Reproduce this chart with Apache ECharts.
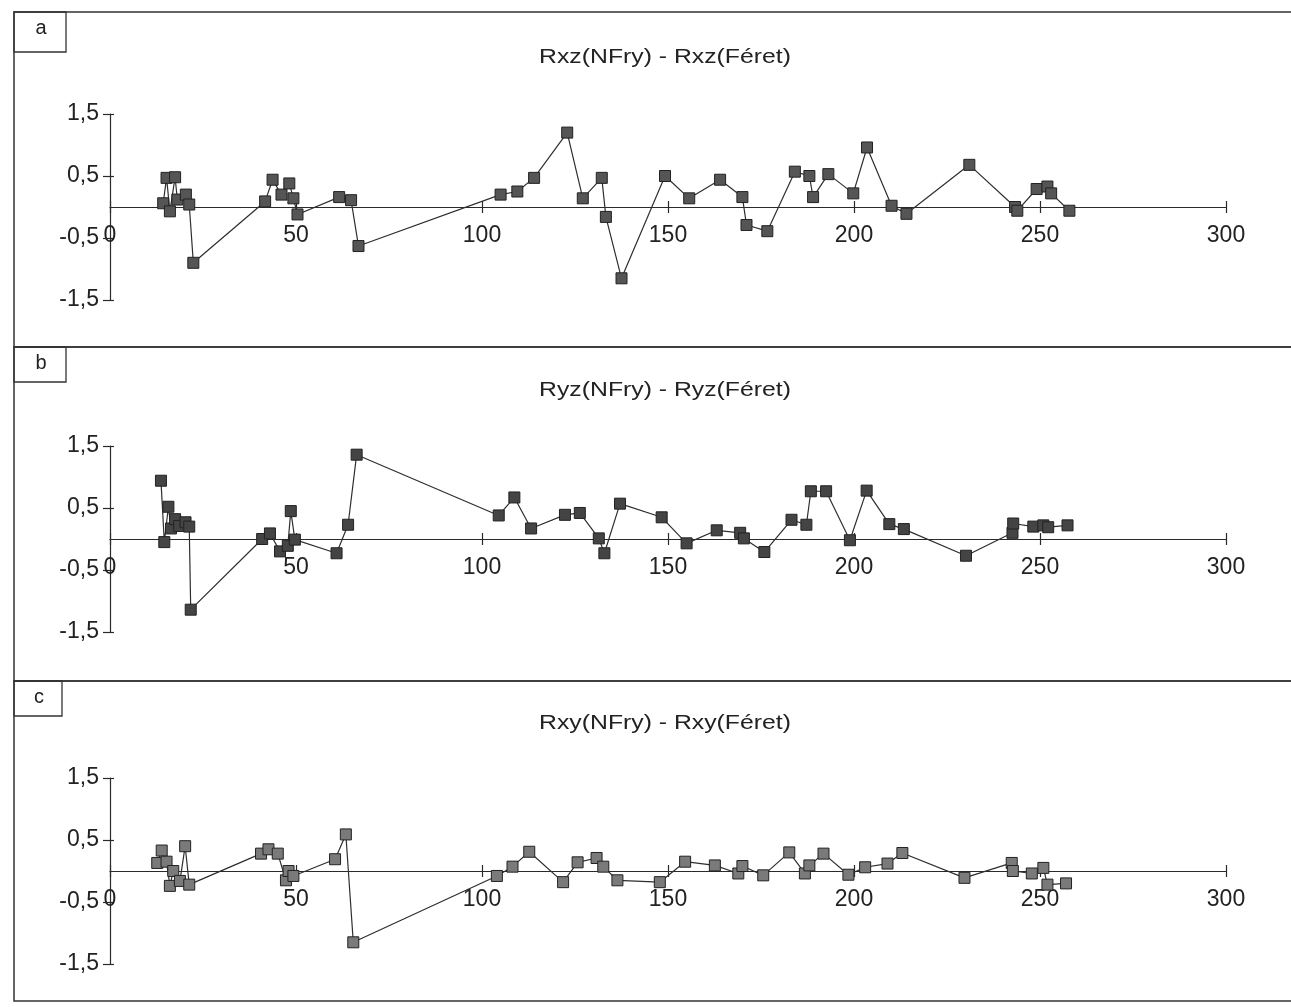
<!DOCTYPE html>
<html>
<head>
<meta charset="utf-8">
<script src="https://cdn.jsdelivr.net/npm/echarts@6.0.0/dist/echarts.min.js"></script>
<style>
  html, body { margin: 0; padding: 0; background: #fff; }
  #chart { width: 1291px; height: 1007px; }
</style>
</head>
<body>
<div id="chart"></div>
<script>
// Panel letters and titles
const panelLetters = ['a', 'b', 'c'];
const panelTitles = ['Rxz(NFry) - Rxz(Féret)', 'Ryz(NFry) - Ryz(Féret)', 'Rxy(NFry) - Rxy(Féret)'];

// Panel a: Rxz difference
const xA = [14.3, 15.2, 16.1, 17.5, 18.1, 20.4, 21.3, 22.4, 41.7, 43.7, 46.1, 48.2, 49.3, 50.4, 61.6, 64.8, 66.8,
  105, 109.5, 114, 122.9, 127.1, 132.2, 133.3, 137.5, 149.2, 155.7, 164, 170, 171.1, 176.7, 184.1, 188, 189,
  193.1, 199.8, 203.5, 210.1, 214.1, 231, 243.3, 243.9, 249.1, 252, 253, 257.9];
const yA = [0.06, 0.47, -0.07, 0.48, 0.12, 0.2, 0.04, -0.9, 0.09, 0.44, 0.2, 0.38, 0.14, -0.12, 0.16, 0.11, -0.63,
  0.2, 0.25, 0.47, 1.2, 0.14, 0.47, -0.16, -1.15, 0.5, 0.14, 0.44, 0.16, -0.29, -0.39, 0.57, 0.5, 0.16,
  0.53, 0.22, 0.96, 0.02, -0.11, 0.68, 0.0, -0.06, 0.29, 0.33, 0.22, -0.06];

// Panel b: Ryz difference
const xB = [13.7, 14.6, 15.7, 16.4, 17.5, 18.6, 20.3, 21.3, 21.7, 40.9, 43, 45.7, 47.8, 48.6, 49.7, 60.9, 64, 66.3,
  104.5, 108.7, 113.2, 122.3, 126.3, 131.4, 132.9, 137.1, 148.3, 155, 163.1, 169.4, 170.4, 175.9, 183.2, 187.2,
  188.4, 192.5, 198.9, 203.4, 209.5, 213.4, 230.1, 242.6, 242.8, 248.2, 250.9, 252.2, 257.4];
const yB = [0.94, -0.05, 0.52, 0.17, 0.32, 0.21, 0.27, 0.2, -1.14, 0.0, 0.09, -0.2, -0.11, 0.45, -0.01, -0.23, 0.23, 1.36,
  0.38, 0.67, 0.17, 0.39, 0.42, 0.01, -0.23, 0.57, 0.35, -0.07, 0.14, 0.10, 0.01, -0.21, 0.31, 0.23,
  0.77, 0.77, -0.02, 0.78, 0.24, 0.16, -0.27, 0.1, 0.25, 0.2, 0.22, 0.19, 0.22];

// Panel c: Rxy difference
const xC = [12.7, 13.9, 15.2, 16.1, 17, 18.8, 20.2, 21.3, 40.6, 42.6, 45.1, 47.3, 48, 49.3, 60.5, 63.4, 65.4,
  104, 108.2, 112.7, 121.8, 125.7, 130.8, 132.6, 136.4, 147.8, 154.6, 162.6, 168.9, 170, 175.6, 182.6, 186.8,
  188, 191.8, 198.5, 203, 209, 213, 229.7, 242.4, 242.7, 247.8, 250.9, 252, 257];
const yC = [0.13, 0.33, 0.15, -0.24, 0.0, -0.16, 0.40, -0.22, 0.28, 0.35, 0.28, -0.15, 0.0, -0.08, 0.19, 0.59, -1.15,
  -0.08, 0.07, 0.31, -0.18, 0.14, 0.21, 0.07, -0.15, -0.18, 0.15, 0.09, -0.04, 0.08, -0.07, 0.30, -0.04,
  0.09, 0.28, -0.06, 0.06, 0.12, 0.29, -0.11, 0.13, 0.0, -0.04, 0.05, -0.22, -0.2];

const panels = [
  { x: xA, y: yA, gridTop: 114, frameTop: 12, frameH: 335, boxW: 52, boxH: 40, fill: '#555555', titleY: 57 },
  { x: xB, y: yB, gridTop: 446, frameTop: 347, frameH: 334, boxW: 52, boxH: 35, fill: '#444444', titleY: 390 },
  { x: xC, y: yC, gridTop: 778, frameTop: 681, frameH: 320, boxW: 48, boxH: 35, fill: '#7a7a7a', titleY: 723 }
];

const FONT = '"Liberation Sans", Arial, sans-serif';
const INK = '#2a2a2a';
const GRID_H = 186;
// the x axis runs through y = 0, which sits halfway up the -1.5 … 1.5 range
const X_AXIS_OFFSET = -GRID_H / 2;
const commaFmt = v => String(v).replace('.', ',');

const grid = [], xAxis = [], yAxis = [], series = [], graphic = [];

panels.forEach((p, i) => {
  grid.push({ left: 110, right: 65, top: p.gridTop, height: GRID_H });

  // main x axis: line, labels, ticks below the line
  xAxis.push({
    type: 'value', gridIndex: i, min: 0, max: 300, interval: 50, position: 'bottom', offset: X_AXIS_OFFSET,
    axisLine: { show: true, onZero: false, lineStyle: { color: INK, width: 1.2 } },
    axisTick: { show: true, length: 6, lineStyle: { color: INK, width: 1.2 } },
    axisLabel: { color: '#222', fontFamily: FONT, fontSize: 23, margin: 17 },
    splitLine: { show: false }
  });
  // companion x axis: ticks above the line
  xAxis.push({
    type: 'value', gridIndex: i, min: 0, max: 300, interval: 50, position: 'bottom', offset: X_AXIS_OFFSET,
    axisLine: { show: false, onZero: false },
    axisTick: { show: true, inside: true, length: 6, lineStyle: { color: INK, width: 1.2 } },
    axisLabel: { show: false },
    splitLine: { show: false }
  });
  // main y axis
  yAxis.push({
    type: 'value', gridIndex: i, min: -1.5, max: 1.5, interval: 1, position: 'left',
    axisLine: { show: true, onZero: false, lineStyle: { color: INK, width: 1.2 } },
    axisTick: { show: true, length: 7, lineStyle: { color: INK, width: 1.2 } },
    axisLabel: { color: '#222', fontFamily: FONT, fontSize: 23, margin: 11, formatter: commaFmt },
    splitLine: { show: false }
  });
  // companion y axis: ticks to the right of the line
  yAxis.push({
    type: 'value', gridIndex: i, min: -1.5, max: 1.5, interval: 1, position: 'left',
    axisLine: { show: false, onZero: false },
    axisTick: { show: true, inside: true, length: 4, lineStyle: { color: INK, width: 1.2 } },
    axisLabel: { show: false },
    splitLine: { show: false }
  });

  series.push({
    type: 'line', xAxisIndex: 2 * i, yAxisIndex: 2 * i,
    data: p.x.map((v, k) => [v, p.y[k]]),
    symbol: 'rect', symbolSize: 11, showSymbol: true,
    lineStyle: { color: '#2e2e2e', width: 1.2 },
    itemStyle: { color: p.fill, borderColor: '#222', borderWidth: 1 },
    animation: false, z: 3
  });

  // panel title, slightly widened
  graphic.push({
    type: 'text', x: 665, y: p.titleY, scaleX: 1.18, originX: 0, originY: 0,
    style: { text: panelTitles[i], fontFamily: FONT, fontSize: 21, fill: '#222', align: 'center', verticalAlign: 'middle' },
    silent: true
  });
  // panel frame
  graphic.push({
    type: 'rect', shape: { x: 14, y: p.frameTop, width: 1300, height: p.frameH },
    style: { fill: 'none', stroke: '#333', lineWidth: 1.5 }, silent: true
  });
  // letter box
  graphic.push({
    type: 'rect', shape: { x: 14, y: p.frameTop, width: p.boxW, height: p.boxH },
    style: { fill: 'none', stroke: '#333', lineWidth: 1.3 }, silent: true
  });
  graphic.push({
    type: 'text', x: 14 + p.boxW / 2 + 1, y: p.frameTop + 16,
    style: { text: panelLetters[i], fontFamily: FONT, fontSize: 20, fill: '#222', align: 'center', verticalAlign: 'middle' },
    silent: true
  });
});

const chart = echarts.init(document.getElementById('chart'), null, { renderer: 'canvas' });
chart.setOption({
  backgroundColor: '#ffffff',
  animation: false,
  grid, xAxis, yAxis, series, graphic
});
</script>
</body>
</html>
